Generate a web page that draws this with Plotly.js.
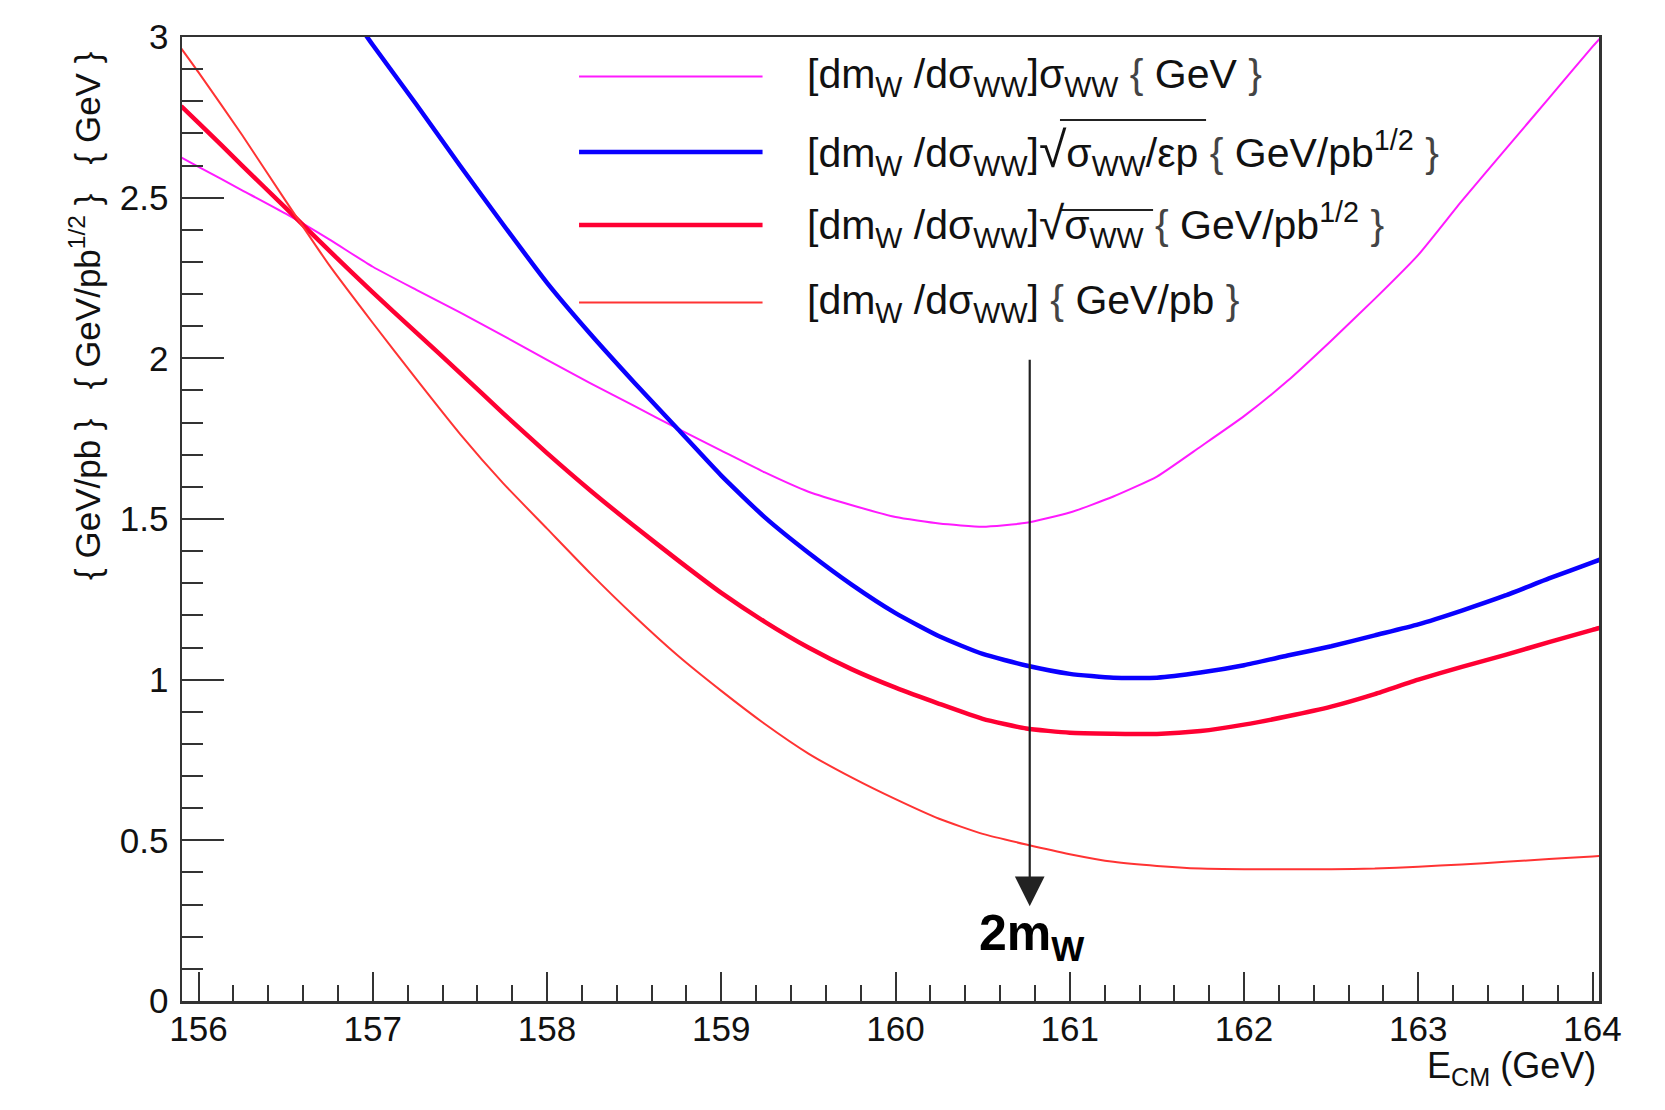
<!DOCTYPE html>
<html>
<head>
<meta charset="utf-8">
<script src="https://cdn.plot.ly/plotly-3.0.1.min.js"></script>
<style>
  html, body { margin: 0; padding: 0; background: #ffffff; }
  #chart { width: 1665px; height: 1110px; }
</style>
</head>
<body>
<div id="chart"></div>
<script>
// ---- data ----
const energyGeV = [155.9, 156.0, 156.25, 156.5, 156.75, 157.0, 157.25, 157.5, 157.75, 158.0,
  158.25, 158.5, 158.75, 159.0, 159.25, 159.5, 159.75, 160.0, 160.25, 160.5,
  160.75, 161.0, 161.25, 161.5, 161.75, 162.0, 162.25, 162.5, 162.75, 163.0,
  163.25, 163.5, 163.75, 164.0, 164.05];

// [dm_W/dσ_WW] σ_WW (GeV)  - magenta
const sensSigma = [2.625, 2.596, 2.523, 2.450, 2.370, 2.285, 2.213, 2.143, 2.070, 1.995,
  1.922, 1.852, 1.781, 1.713, 1.645, 1.585, 1.543, 1.506, 1.486, 1.476,
  1.488, 1.520, 1.570, 1.632, 1.725, 1.820, 1.930, 2.055, 2.185, 2.322,
  2.490, 2.650, 2.810, 2.970, 3.000];

// [dm_W/dσ_WW] sqrt(σ_WW/εp) (GeV/pb^1/2) - blue
const sensSqrtEffPur = [null, null, null, null, 3.17, 2.975, 2.79, 2.60, 2.415, 2.235,
  2.075, 1.925, 1.78, 1.635, 1.505, 1.395, 1.295, 1.207, 1.135, 1.08,
  1.044, 1.018, 1.006, 1.006, 1.022, 1.045, 1.075, 1.104, 1.138, 1.172,
  1.215, 1.262, 1.315, 1.365, 1.375];

// [dm_W/dσ_WW] sqrt(σ_WW) (GeV/pb^1/2) - thick red
const sensSqrtSigma = [2.785, 2.733, 2.60, 2.468, 2.335, 2.205, 2.08, 1.955, 1.828, 1.705,
  1.588, 1.478, 1.372, 1.27, 1.18, 1.10, 1.032, 0.975, 0.925, 0.878,
  0.848, 0.835, 0.832, 0.831, 0.84, 0.86, 0.886, 0.916, 0.955, 1.0,
  1.04, 1.077, 1.117, 1.155, 1.162];

// [dm_W/dσ_WW] (GeV/pb) - thin red
const sensBare = [2.965, 2.89, 2.695, 2.49, 2.29, 2.11, 1.935, 1.765, 1.61, 1.47,
  1.33, 1.198, 1.075, 0.965, 0.862, 0.77, 0.695, 0.628, 0.567, 0.52,
  0.487, 0.457, 0.433, 0.42, 0.412, 0.41, 0.41, 0.41, 0.412, 0.418,
  0.425, 0.433, 0.442, 0.45, 0.452];

const seriesNames = [
  "[dm<sub>W</sub> /dσ<sub>WW</sub>]σ<sub>WW</sub> <span style='color:#444'>{</span> GeV <span style='color:#444'>}</span>",
  "[dm<sub>W</sub> /dσ<sub>WW</sub>]<span style='font-size:50px'>√</span>σ<sub>WW</sub>/εp <span style='color:#444'>{</span> GeV/pb<sup>1/2</sup> <span style='color:#444'>}</span>",
  "[dm<sub>W</sub> /dσ<sub>WW</sub>]<span style='font-size:46px'>√</span>σ<sub>WW</sub> <span style='color:#444'>{</span> GeV/pb<sup>1/2</sup> <span style='color:#444'>}</span>",
  "[dm<sub>W</sub> /dσ<sub>WW</sub>] <span style='color:#444'>{</span> GeV/pb <span style='color:#444'>}</span>"
];

const xTickVals = [156, 157, 158, 159, 160, 161, 162, 163, 164];
const yTickVals = [0, 0.5, 1, 1.5, 2, 2.5, 3];
const yTickText = ["0", "0.5", "1", "1.5", "2", "2.5", "3"];

const thresholdEnergy = 160.77;   // 2 m_W
const arrowTop = 2.0;
const arrowTip = 0.295;
const thresholdLabel = "<b>2m<sub>W</sub></b>";
const xTitleText = "E<sub>CM</sub> (GeV)";
const yTitleText = "{\u00a0GeV/pb\u00a0}\u00a0\u00a0\u00a0{\u00a0GeV/pb<sup>1/2</sup>\u00a0}\u00a0\u00a0\u00a0{\u00a0GeV\u00a0}";

// ---- styling ----
const FONT = "Liberation Sans, Arial, Helvetica, sans-serif";
const colors = ["#ff1aff", "#0a00ff", "#ff0033", "#ff3333"];
const widths = [2, 4.5, 4.5, 2];
const seriesY = [sensSigma, sensSqrtEffPur, sensSqrtSigma, sensBare];

const traces = seriesY.map((ys, i) => ({
  type: "scatter",
  mode: "lines",
  x: energyGeV,
  y: ys,
  name: seriesNames[i],
  line: { color: colors[i], width: widths[i], shape: "spline", smoothing: 0.5 },
  connectgaps: false,
  showlegend: false,
  hoverinfo: "skip"
}));

// manual legend (long line samples like the reference)
const legendRowY = [0.959, 0.8807, 0.805, 0.7245];
const shapes = legendRowY.map((yy, i) => ({
  type: "line", xref: "paper", yref: "paper",
  x0: 0.2802, x1: 0.4097, y0: yy, y1: yy,
  line: { color: colors[i], width: widths[i] }
}));
// radical overlines in legend rows 2 and 3
shapes.push({ type: "line", xref: "paper", yref: "paper", x0: 0.6196, x1: 0.7227, y0: 0.9139, y1: 0.9139,
  line: { color: "#222", width: 2 } });
shapes.push({ type: "line", xref: "paper", yref: "paper", x0: 0.6196, x1: 0.6853, y0: 0.8205, y1: 0.8205,
  line: { color: "#222", width: 2 } });

const annotations = legendRowY.map((yy, i) => ({
  xref: "paper", yref: "paper", x: 0.4397, y: yy,
  xanchor: "left", yanchor: "middle",
  text: seriesNames[i], showarrow: false,
  font: { family: FONT, size: 41, color: "#111" }
}));

annotations.push({
  xref: "x", yref: "y", axref: "x", ayref: "y",
  x: thresholdEnergy, y: arrowTip, ax: thresholdEnergy, ay: arrowTop,
  text: "", showarrow: true, arrowhead: 2, arrowsize: 2.7, arrowwidth: 2.2,
  arrowcolor: "#222", standoff: 0, startstandoff: 0
});
annotations.push({
  xref: "x", yref: "y", x: 160.47, y: 0.2,
  xanchor: "left", yanchor: "middle",
  text: thresholdLabel, showarrow: false,
  font: { family: FONT, size: 50, color: "#000" }
});
annotations.push({
  xref: "paper", yref: "paper", x: 0.9993, y: -0.0695,
  xanchor: "right", yanchor: "middle",
  text: xTitleText, showarrow: false,
  font: { family: FONT, size: 36, color: "#111" }
});
annotations.push({
  xref: "paper", yref: "paper", x: -0.0685, y: 0.7116,
  xanchor: "center", yanchor: "middle", textangle: -90,
  text: yTitleText, showarrow: false,
  font: { family: FONT, size: 35, color: "#111" }
});

const layout = {
  width: 1665, height: 1110,
  paper_bgcolor: "#ffffff", plot_bgcolor: "#ffffff",
  margin: { l: 182, r: 66, t: 37, b: 109, pad: 0 },
  showlegend: false,
  font: { family: FONT, size: 35, color: "#111" },
  xaxis: {
    range: [155.905, 164.037],
    tickmode: "array", tickvals: xTickVals,
    ticks: "inside", ticklen: 29, tickwidth: 2, tickcolor: "#333",
    minor: { dtick: 0.2, tick0: 156, ticks: "inside", ticklen: 16, tickwidth: 2, tickcolor: "#333", showgrid: false },
    showline: true, linecolor: "#333", linewidth: 2.5, mirror: true,
    showgrid: false, zeroline: false,
    tickfont: { family: FONT, size: 35, color: "#111" },
    ticklabelstandoff: -5
  },
  yaxis: {
    range: [0, 3],
    tickmode: "array", tickvals: yTickVals, ticktext: yTickText,
    ticks: "inside", ticklen: 42, tickwidth: 2, tickcolor: "#333",
    minor: { dtick: 0.1, tick0: 0, ticks: "inside", ticklen: 21, tickwidth: 2, tickcolor: "#333", showgrid: false },
    showline: true, linecolor: "#333", linewidth: 2.5, mirror: true,
    showgrid: false, zeroline: false,
    tickfont: { family: FONT, size: 35, color: "#111" },
    ticklabelstandoff: 4
  },
  shapes: shapes,
  annotations: annotations
};

Plotly.newPlot("chart", traces, layout, { displayModeBar: false, staticPlot: true });
</script>
</body>
</html>
